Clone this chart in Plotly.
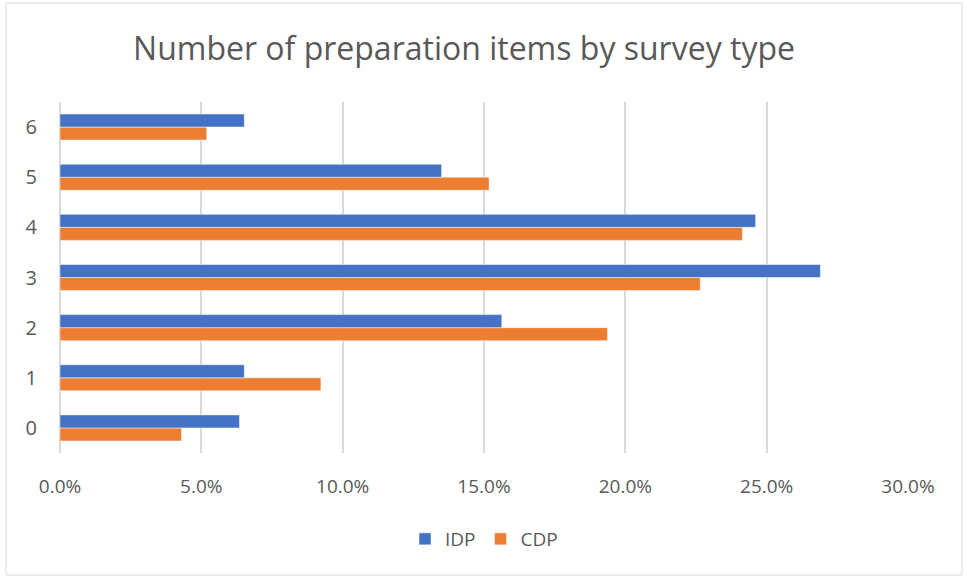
import plotly.graph_objects as go

# Number of preparation items (0-6) and share of respondents per survey type
items = ["0", "1", "2", "3", "4", "5", "6"]
idp_share = [0.0635, 0.0652, 0.1563, 0.2690, 0.2461, 0.1350, 0.0652]
cdp_share = [0.0430, 0.0923, 0.1937, 0.2265, 0.2414, 0.1518, 0.0519]

font_family = "Open Sans, Liberation Sans, sans-serif"
text_grey = "#595959"
grid_grey = "#d9d9d9"

fig = go.Figure()
# CDP added first so it sits below IDP inside each category group
fig.add_trace(go.Bar(
    y=items, x=cdp_share, name="CDP", orientation="h",
    marker=dict(color="#ED7D31", line=dict(color="white", width=0.5)),
    legendrank=2,
))
fig.add_trace(go.Bar(
    y=items, x=idp_share, name="IDP", orientation="h",
    marker=dict(color="#4472C4", line=dict(color="white", width=0.5)),
    legendrank=1,
))

W, H = 967, 578
ml, mr, mt, mb = 60, 59, 102, 125
pw, ph = W - ml - mr, H - mt - mb

fig.update_layout(
    width=W, height=H,
    margin=dict(l=ml, r=mr, t=mt, b=mb),
    paper_bgcolor="white", plot_bgcolor="white",
    barmode="group", bargap=0.48, bargroupgap=0,
    font=dict(family=font_family, color=text_grey, size=19),
    title=dict(
        text="Number of preparation items by survey type",
        x=464 / W, xanchor="center", xref="container",
        y=1 - 49 / H, yanchor="middle",
        font=dict(size=32, color=text_grey, family=font_family),
    ),
    xaxis=dict(
        range=[0, 0.30], dtick=0.05, tickformat=".1%",
        showgrid=True, gridcolor=grid_grey, gridwidth=1.8,
        zeroline=True, zerolinecolor=grid_grey, zerolinewidth=1.8,
        showline=False, ticks="", ticklabelstandoff=20,
        tickfont=dict(size=19, color=text_grey),
    ),
    yaxis=dict(
        categoryorder="array", categoryarray=items,
        showgrid=False, zeroline=False, showline=False, ticks="",
        ticklabelstandoff=22,
        tickfont=dict(size=20, color=text_grey),
    ),
    legend=dict(
        orientation="h", x=0.5, xanchor="center",
        y=-(539 - mt - ph) / ph, yanchor="middle",
        font=dict(size=19, color=text_grey),
        itemwidth=30,
    ),
    shapes=[dict(
        type="rect", xref="paper", yref="paper",
        x0=(6 - ml) / pw, x1=(962 - ml) / pw,
        y0=(H - mb - 575) / ph, y1=(H - mb - 3) / ph,
        line=dict(color=grid_grey, width=1), fillcolor="rgba(0,0,0,0)",
        layer="below",
    )],
)

fig.write_html("out.html")
